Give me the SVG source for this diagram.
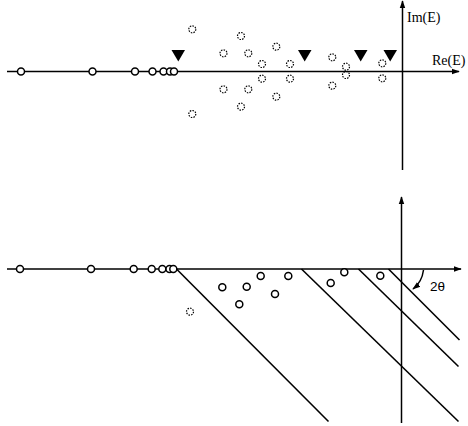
<svg xmlns="http://www.w3.org/2000/svg" width="468" height="426" viewBox="0 0 468 426">
<style>
.ax{stroke:#000;stroke-width:1.5;fill:none}
.ln{stroke:#000;stroke-width:1.6;fill:none}
.o{fill:#fff;stroke:#000;stroke-width:1.5}
.d{fill:none;stroke:#000;stroke-width:1.2;stroke-dasharray:1.5 1.2}
.tri{fill:#000}
.lab{font-family:"Liberation Serif",serif;font-size:14px;fill:#000}
.lab2{font-family:"Liberation Sans",sans-serif;font-size:13.5px;fill:#000}
</style>
<defs>
<marker id="ah" viewBox="0 0 10 10" refX="9" refY="5" markerWidth="8" markerHeight="8" markerUnits="userSpaceOnUse" orient="auto">
<path d="M0,1.5 L10,5 L0,8.5 Z" fill="#000"/>
</marker>
</defs>
<rect width="468" height="426" fill="#fff"/>
<g id="connectors">
<line class="ax" x1="7" y1="71.5" x2="459" y2="71.5" marker-end="url(#ah)"/>
<line class="ax" x1="402.5" y1="170" x2="402.5" y2="1" marker-end="url(#ah)"/>
<line class="ax" x1="7" y1="269" x2="461" y2="269" marker-end="url(#ah)"/>
<line class="ax" x1="401.5" y1="423" x2="401.5" y2="197" marker-end="url(#ah)"/>
<line class="ln" x1="176.5" y1="269" x2="328.5" y2="421.5"/>
<line class="ln" x1="301.5" y1="269" x2="458.5" y2="421.5"/>
<line class="ln" x1="358.5" y1="269" x2="458.5" y2="366.5"/>
<line class="ln" x1="388.5" y1="269" x2="459.5" y2="340"/>
<path class="ax" d="M423.5,270 Q422,282 413,289" marker-end="url(#ah)"/>
</g>
<g id="top-real">
<circle class="o" cx="21" cy="71.5" r="3.5"/>
<circle class="o" cx="92.5" cy="71.5" r="3.5"/>
<circle class="o" cx="135" cy="71.5" r="3.5"/>
<circle class="o" cx="152.5" cy="71.5" r="3.5"/>
<circle class="o" cx="163.5" cy="71.5" r="3.5"/>
<circle class="o" cx="170" cy="71.5" r="3.5"/>
<circle class="o" cx="174" cy="71.5" r="3.5"/>
</g>
<g id="top-triangles">
<path class="tri" d="M171.5,50 L185,50 L178.3,61.5 Z"/>
<path class="tri" d="M298,50 L311.5,50 L304.7,61.5 Z"/>
<path class="tri" d="M354,50 L367.5,50 L360.7,61.5 Z"/>
<path class="tri" d="M383.5,50 L397,50 L390.2,61.5 Z"/>
</g>
<g id="top-resonances">
<circle class="d" cx="192.3" cy="29.3" r="3.5"/>
<circle class="d" cx="192.3" cy="114" r="3.5"/>
<circle class="d" cx="241" cy="36" r="3.5"/>
<circle class="d" cx="241" cy="106.7" r="3.5"/>
<circle class="d" cx="223.5" cy="53.3" r="3.5"/>
<circle class="d" cx="223.5" cy="89.3" r="3.5"/>
<circle class="d" cx="248.3" cy="53.3" r="3.5"/>
<circle class="d" cx="248.3" cy="89.3" r="3.5"/>
<circle class="d" cx="276.3" cy="46.7" r="3.5"/>
<circle class="d" cx="276.3" cy="96.7" r="3.5"/>
<circle class="d" cx="262" cy="64" r="3.5"/>
<circle class="d" cx="262" cy="78.7" r="3.5"/>
<circle class="d" cx="290" cy="64" r="3.5"/>
<circle class="d" cx="290" cy="78.7" r="3.5"/>
<circle class="d" cx="332.3" cy="57.3" r="3.5"/>
<circle class="d" cx="332.3" cy="85.7" r="3.5"/>
<circle class="d" cx="346" cy="66.7" r="3.5"/>
<circle class="d" cx="346" cy="75" r="3.5"/>
<circle class="d" cx="382.3" cy="63.3" r="3.5"/>
<circle class="d" cx="382.3" cy="78.3" r="3.5"/>
</g>
<g id="top-labels">
<text class="lab" x="407" y="22">Im(E)</text>
<text class="lab" x="432" y="65">Re(E)</text>
</g>
<g id="bottom-real">
<circle class="o" cx="20" cy="269" r="3.5"/>
<circle class="o" cx="91" cy="269" r="3.5"/>
<circle class="o" cx="133.7" cy="269" r="3.5"/>
<circle class="o" cx="151.7" cy="269" r="3.5"/>
<circle class="o" cx="162.3" cy="269" r="3.5"/>
<circle class="o" cx="169.5" cy="269" r="3.5"/>
<circle class="o" cx="173.3" cy="269" r="3.5"/>
</g>
<g id="bottom-resonances">
<circle class="o" cx="222.3" cy="287.3" r="3.5"/>
<circle class="o" cx="246.7" cy="286.7" r="3.5"/>
<circle class="o" cx="260.7" cy="276" r="3.5"/>
<circle class="o" cx="288.3" cy="276" r="3.5"/>
<circle class="o" cx="239.3" cy="304.3" r="3.5"/>
<circle class="o" cx="275" cy="294" r="3.5"/>
<circle class="o" cx="330.7" cy="283" r="3.5"/>
<circle class="o" cx="344.3" cy="272.3" r="3.5"/>
<circle class="o" cx="380.3" cy="275.7" r="3.5"/>
<circle class="d" cx="190" cy="311.7" r="3.5"/>
</g>
<g id="angle-label">
<text class="lab2" x="430" y="291">2θ</text>
</g>
</svg>
